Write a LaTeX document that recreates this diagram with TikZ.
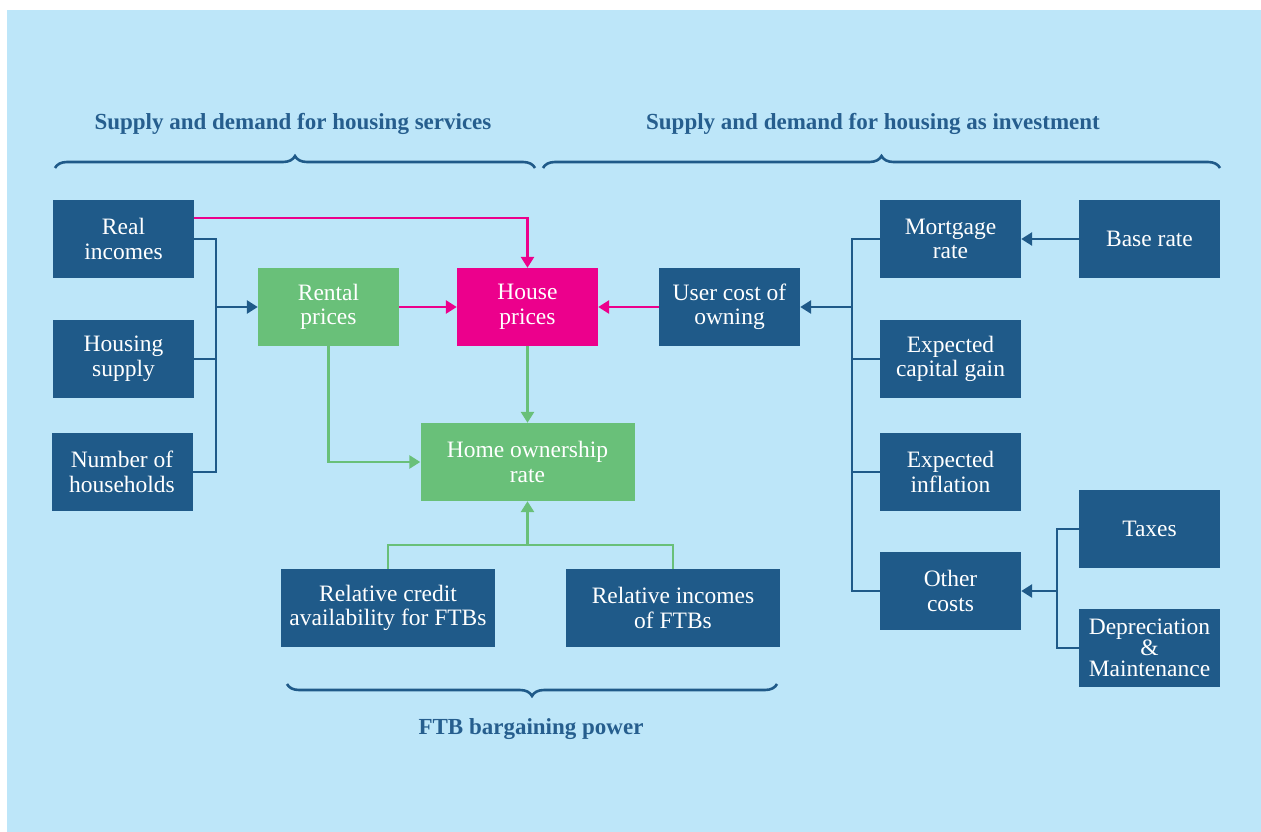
\documentclass[tikz,border=0pt]{standalone}
\usepackage{fontspec}
\setmainfont{Liberation Serif}
\usetikzlibrary{arrows.meta,decorations.pathreplacing}
\definecolor{bgblue}{RGB}{189,230,249}
\definecolor{dblue}{RGB}{31,90,137}
\definecolor{tblue}{RGB}{38,94,142}
\definecolor{hgreen}{RGB}{105,192,121}
\definecolor{hpink}{RGB}{236,0,140}
\tikzset{
  boxbase/.style={minimum width=141pt,minimum height=78pt,inner sep=0pt,align=center,text=white,
    font=\fontsize{23.5}{24.5}\selectfont},
  dbox/.style={boxbase,fill=dblue},
  gbox/.style={boxbase,fill=hgreen},
  pbox/.style={boxbase,fill=hpink},
  widebox/.style={minimum width=214pt},
  conn/.style={line width=2.7pt},
  bconn/.style={conn,draw=dblue},
  gconn/.style={conn,draw=hgreen},
  pconn/.style={conn,draw=hpink},
  tip/.style={-{Triangle[length=11pt,width=13pt]}},
  brc/.style={draw=dblue,line width=2.6pt,decorate,decoration={brace,amplitude=12pt}},
  ttl/.style={text=tblue,font=\fontsize{23}{25}\selectfont\bfseries},
}
\begin{document}
\begin{tikzpicture}[x=1pt,y=-1pt]
\useasboundingbox (0,0) rectangle (1261,832);
\fill[white] (0,0) rectangle (1261,832);
\fill[bgblue] (7,10) rectangle (1261,832);

% titles
\node[ttl] (t1) at (293,124) {Supply and demand for housing services};
\node[ttl] (t2) at (873,124) {Supply and demand for housing as investment};
\node[ttl] (t3) at (531,729) {FTB bargaining power};

% braces
\draw[brc] (55,168) -- (535,168);
\draw[brc] (543,168) -- (1220,168);
\draw[brc] (777,684) -- (287,684);

% left boxes
\node[dbox] (ri) at (123.5,239) {Real\\incomes};
\node[dbox] (hs) at (123.5,359) {Housing\\supply};
\node[dbox] (nh) at (122,472) {Number of\\households};
\node[gbox] (rp) at (328.5,307) {Rental\\prices};
\node[pbox] (hp) at (527.5,307) {House\\prices};
\node[dbox] (uc) at (729.5,307) {User cost of\\owning};
\node[gbox,widebox] (ho) at (527.5,462) {Home ownership\\rate};
\node[dbox,widebox] (rc) at (388,608) {Relative credit\\availability for FTBs};
\node[dbox,widebox] (rin) at (673,608) {Relative incomes\\of FTBs};

% right boxes
\node[dbox] (mr) at (950.5,239) {Mortgage\\rate};
\node[dbox] (br) at (1149.5,239) {Base rate};
\node[dbox] (ecg) at (950.5,359) {Expected\\capital gain};
\node[dbox] (ei) at (950.5,472) {Expected\\inflation};
\node[dbox] (oc) at (950.5,591) {Other\\costs};
\node[dbox] (tx) at (1149.5,529) {Taxes};
\node[dbox,font=\fontsize{23.5}{21}\selectfont] (dm) at (1149.5,648) {Depreciation\\\&\\Maintenance};

% coordinates for buses
\coordinate (lb) at (216,307);
\coordinate (rb) at (852,307);
\coordinate (ob) at (1057,591);
\coordinate (gb) at (527.5,545);

% left bus
\draw[bconn] (ri.east |- 0,239) -| (216,472) -- (nh.east |- 0,472);
\draw[bconn] (hs.east) -- (216,359);
\draw[bconn,tip] (lb) -- (rp.west);

% pink
\draw[pconn,tip] (ri.east |- 0,218) -| (hp.north);
\draw[pconn,tip] (rp.east) -- (hp.west);
\draw[pconn,tip] (uc.west) -- (hp.east);

% green
\draw[gconn,tip] (hp.south) -- (ho.north);
\draw[gconn,tip] (rp.south) |- (ho.west);
\draw[gconn] (rc.north) |- (gb) -| (rin.north);
\draw[gconn,tip] (gb) -- (ho.south);

% right bus
\draw[bconn] (mr.west) -| (852,591) -- (oc.west);
\draw[bconn] (ecg.west) -- (852,359);
\draw[bconn] (ei.west) -- (852,472);
\draw[bconn,tip] (rb) -- (uc.east);
\draw[bconn,tip] (br.west) -- (mr.east);

% other costs bus
\draw[bconn] (tx.west) -| (1057,648) -- (dm.west);
\draw[bconn,tip] (ob) -- (oc.east);
\end{tikzpicture}
\end{document}
